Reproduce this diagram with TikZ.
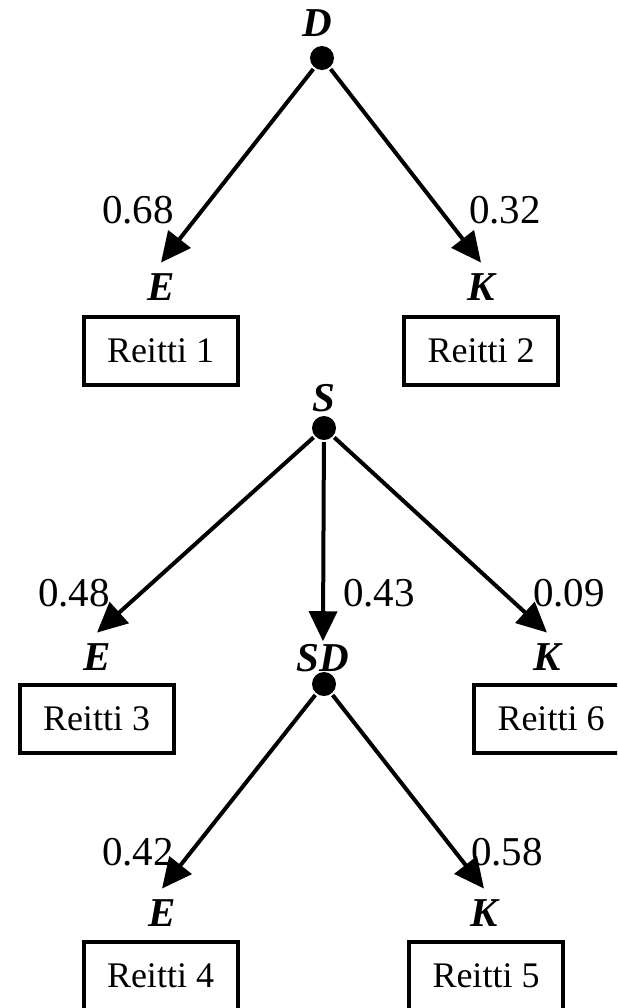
\documentclass[tikz,border=0pt]{standalone}
\usepackage{fontspec}
\setmainfont{Liberation Serif}
\usetikzlibrary{arrows.meta}

\begin{document}
\begin{tikzpicture}[x = 0.5pt, y = -0.5pt, line width = 2pt,
                    font = \fontsize{20.5}{24}\selectfont,
                    dot/.style = {circle, fill = black, minimum size = 12pt, inner sep = 0pt},
                    state/.style = {font = \fontsize{20.5}{24}\selectfont\bfseries\itshape,
                                    inner xsep = 1pt, inner ysep = 4.5pt},
                    route/.style = {draw, font = \fontsize{18}{22}\selectfont,
                                    minimum width = 77pt, minimum height = 34pt, inner sep = 0pt},
                    prob/.style = {inner sep = 0pt},
                    edge/.style = {-{Triangle[length = 15pt, width = 14pt]}}]
      \clip (0, 0) rectangle (617, 1008);
      % D tree
      \node [dot] (d) at (322, 58){};
      \node [state] (dl) at (317, 23){D};
      \node [state] (e1) at (161, 287){E};
      \node [state] (k1) at (481, 287){K};
      \node [route] (r1) at (160.5, 351){Reitti 1};
      \node [route] (r2) at (481, 351){Reitti 2};
      \node [prob] (p1) at (138, 210){0.68};
      \node [prob] (p2) at (505, 210){0.32};
      \draw [edge] (d) -- (e1.north);
      \draw [edge] (d) -- (k1.north);
      % S tree
      \node [dot] (s) at (324, 428){};
      \node [state] (sl) at (324, 398){S};
      \node [state] (e2) at (97, 657){E};
      \node [state] (sdl) at (323, 658){SD};
      \node [state] (k2) at (547, 657){K};
      \node [route] (r3) at (96.5, 718.5){Reitti 3};
      \node [route] (r6) at (551, 718.5){Reitti 6};
      \node [prob] (p3) at (74, 593){0.48};
      \node [prob] (p4) at (379, 593){0.43};
      \node [prob] (p5) at (569, 593){0.09};
      \draw [edge] (s) -- (e2.north);
      \draw [edge, shorten >= -4pt] (s) -- (sdl.north);
      \draw [edge] (s) -- (k2.north);
      % SD subtree
      \node [dot] (sd) at (324, 684){};
      \node [state] (e3) at (162, 913){E};
      \node [state] (k3) at (484, 913){K};
      \node [route] (r4) at (160.5, 976){Reitti 4};
      \node [route] (r5) at (486, 976){Reitti 5};
      \node [prob] (p6) at (138, 852){0.42};
      \node [prob] (p7) at (507, 852){0.58};
      \draw [edge] (sd) -- (e3.north);
      \draw [edge] (sd) -- (k3.north);
    \end{tikzpicture}
\end{document}
